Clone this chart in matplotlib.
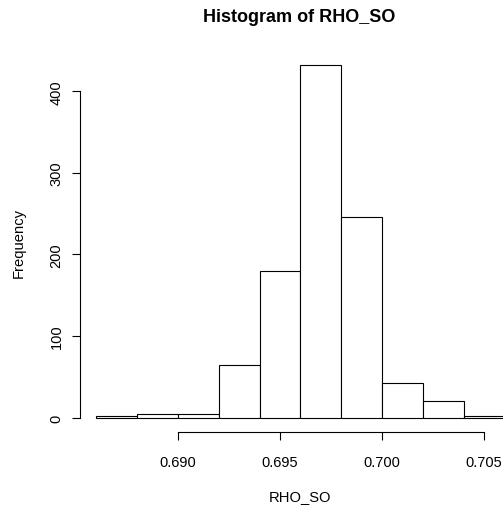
import numpy as np
import matplotlib.pyplot as plt

plt.rcParams['font.family'] = ['Liberation Sans', 'DejaVu Sans']

# histogram bins of RHO_SO and their counts
breaks = [0.686, 0.688, 0.690, 0.692, 0.694, 0.696, 0.698, 0.700, 0.702, 0.704, 0.706]
counts = [2, 4, 5, 65, 180, 432, 246, 43, 20, 2]
xticks = [0.690, 0.695, 0.700, 0.705]
xtick_labels = ['0.690', '0.695', '0.700', '0.705']
yticks = [0, 100, 200, 300, 400]

W, H = 503, 506
fig = plt.figure(figsize=(W / 100, H / 100), dpi=100)
# plot region in pixels (R style, runs past the right edge of the picture)
left, right, top, bottom = 80, 520.7, 52, 432.7
ax = fig.add_axes([left / W, 1 - bottom / H, (right - left) / W, (bottom - top) / H])

edges = np.array(breaks)
ax.bar(edges[:-1], counts, width=np.diff(edges), align='edge',
       facecolor='white', edgecolor='black', linewidth=0.8)

rng = edges[-1] - edges[0]
ax.set_xlim(edges[0] - 0.04 * rng, edges[-1] + 0.04 * rng)
ax.set_ylim(-0.04 * max(counts), max(counts) * 1.04)

for s in ['top', 'right']:
    ax.spines[s].set_visible(False)
ax.spines['left'].set_bounds(0, 400)
ax.spines['bottom'].set_bounds(0.690, 0.705)
for s in ['left', 'bottom']:
    ax.spines[s].set_linewidth(0.8)

ax.set_xticks(xticks)
ax.set_xticklabels(xtick_labels)
ax.set_yticks(yticks)
ax.set_yticklabels([str(v) for v in yticks], rotation=90, va='center')
ax.tick_params(direction='out', length=5.8, width=0.8, labelsize=10.5,
               colors='black')
ax.tick_params(axis='x', pad=11)
ax.tick_params(axis='y', pad=6)

fig.text(300 / W, 1 - 497.5 / H, 'RHO_SO', ha='center', va='center', fontsize=10.6)
fig.text(19 / W, 1 - 243 / H, 'Frequency', ha='center', va='center',
         rotation=90, fontsize=10.6)
fig.text(299 / W, 1 - 18 / H, 'Histogram of RHO_SO', ha='center', va='center',
         fontsize=13, fontweight='bold')

fig.savefig('out.png', dpi=100)
